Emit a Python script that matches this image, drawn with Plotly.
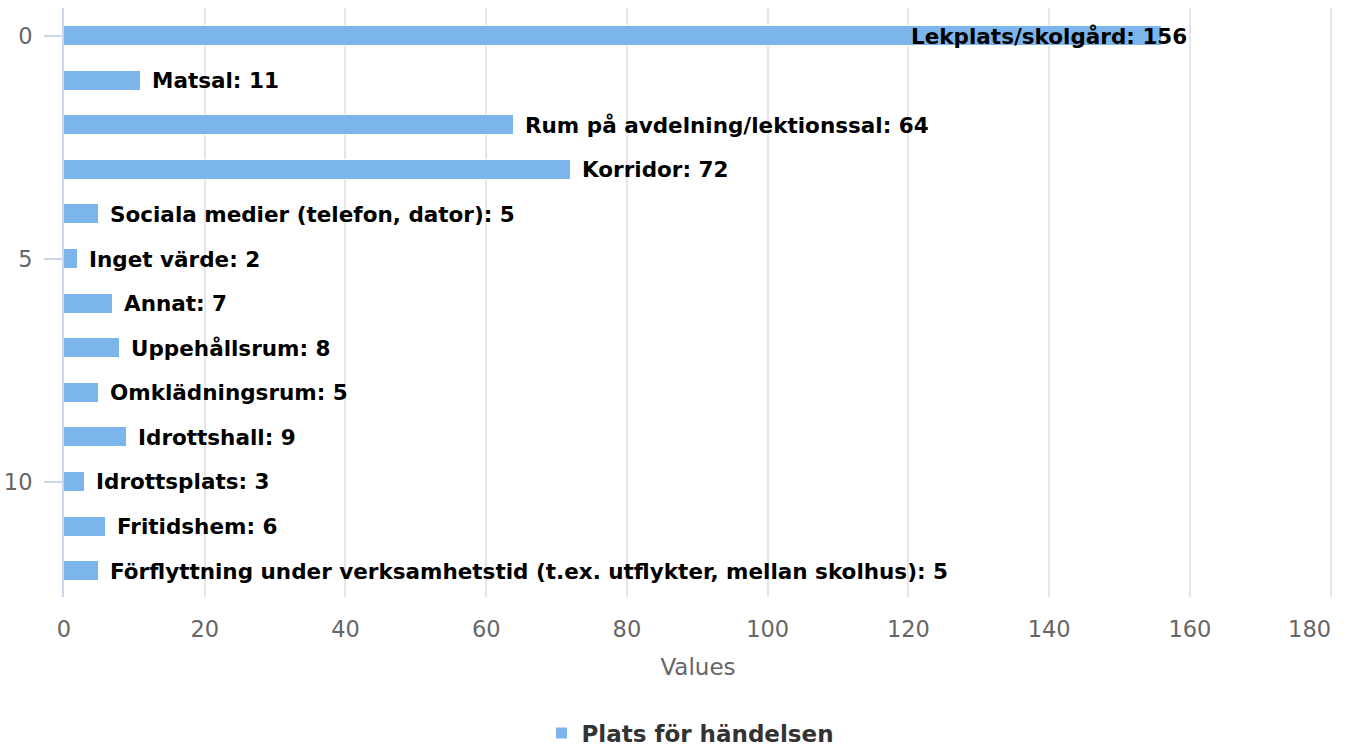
import plotly.graph_objects as go

categories = [
    "Lekplats/skolgård", "Matsal", "Rum på avdelning/lektionssal", "Korridor",
    "Sociala medier (telefon, dator)", "Inget värde", "Annat", "Uppehållsrum",
    "Omklädningsrum", "Idrottshall", "Idrottsplats", "Fritidshem",
    "Förflyttning under verksamhetstid (t.ex. utflykter, mellan skolhus)",
]
values = [156, 11, 64, 72, 5, 2, 7, 8, 5, 9, 3, 6, 5]
series_name = "Plats för händelsen"
x_ticks = [0, 20, 40, 60, 80, 100, 120, 140, 160, 180]
x_tick_labels = ["0", "20", "40", "60", "80", "100", "120", "140", "160", ""]
x_last_tick = [180]
x_last_label = ["180"]
y_ticks = [0, 5, 10]

positions = list(range(len(categories)))
x_range = [0, 180.2]

fig = go.Figure()
fig.add_trace(go.Bar(
    x=values, y=positions, orientation="h", name=series_name,
    width=0.45,
    marker=dict(color="#7cb5ec", line=dict(color="#ffffff", width=1)),
    showlegend=True, hoverinfo="x+y",
))
# empty helper trace so the secondary x axis (carrying the shifted "180" label) is drawn
fig.add_trace(go.Scatter(x=[], y=[], xaxis="x2", yaxis="y", showlegend=False,
                         hoverinfo="skip", mode="markers"))

label_font = dict(family="DejaVu Sans", size=21.5, color="#000000")
annotations = []
for i, (c, v) in enumerate(zip(categories, values)):
    label = f"<b>{c}: {v}</b>"
    if i == 0:
        annotations.append(dict(x=v, y=i, xref="x", yref="y", text=label, showarrow=False,
                                xanchor="right", yanchor="middle", xshift=27, font=label_font))
    else:
        annotations.append(dict(x=v, y=i, xref="x", yref="y", text=label, showarrow=False,
                                xanchor="left", yanchor="middle", xshift=9, font=label_font))

fig.update_layout(
    width=1349, height=746,
    margin=dict(l=64, r=17, t=8, b=149, autoexpand=False),
    paper_bgcolor="#ffffff", plot_bgcolor="#ffffff",
    font=dict(family="DejaVu Sans", color="#666666"),
    annotations=annotations,
    showlegend=True,
    legend=dict(orientation="h", x=0.4937, xanchor="center", y=-0.231, yanchor="middle",
                font=dict(family="DejaVu Sans", size=23, color="#333333", weight="bold")),
    bargap=0,
    xaxis=dict(
        range=x_range, tickvals=x_ticks, ticktext=x_tick_labels,
        showgrid=True, gridcolor="#e6e6e6", gridwidth=2,
        zeroline=False, showline=False, ticks="", automargin=False,
        tickfont=dict(size=22.5, color="#666666"), ticklabelstandoff=16,
        ticklabeloverflow="allow",
        title=dict(text="Values", font=dict(size=23, color="#666666"), standoff=18),
    ),
    xaxis2=dict(
        overlaying="x", side="bottom", anchor="y", range=x_range,
        tickvals=x_last_tick, ticktext=x_last_label,
        showgrid=False, zeroline=False, showline=False, ticks="", automargin=False,
        tickfont=dict(size=22.5, color="#666666"), ticklabelstandoff=16,
        ticklabelshift=-21, ticklabeloverflow="allow",
    ),
    yaxis=dict(
        range=[12.58, -0.63], tickvals=y_ticks, ticktext=[str(t) for t in y_ticks],
        showgrid=False, zeroline=False, automargin=False,
        showline=True, linecolor="#ccd6eb", linewidth=2,
        ticks="outside", ticklen=18, tickwidth=2, tickcolor="#ccd6eb",
        tickfont=dict(size=22.5, color="#666666"), ticklabelstandoff=7,
    ),
)

fig.write_html("out.html", config={"displayModeBar": False},
               post_script="document.body.style.margin='0';")
